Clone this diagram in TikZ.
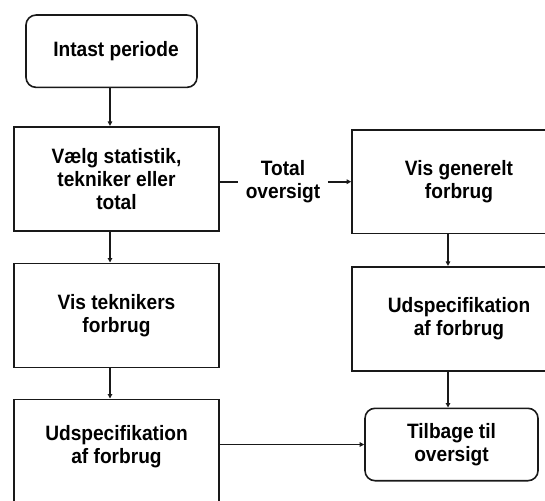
\documentclass[tikz,border=0pt]{standalone}
\usepackage{fontspec}
\setmainfont{Liberation Sans}[FakeStretch=0.92]
\usetikzlibrary{arrows.meta}
\begin{document}
\begin{tikzpicture}[x=1pt,y=1pt,
  every node/.style={font=\fontsize{20.8}{23}\selectfont\bfseries, align=center, inner sep=0pt},
  box/.style={draw=black!90, line width=1.6pt, minimum width=205pt, minimum height=104pt},
  rbox/.style={draw=black!90, line width=1.6pt, rounded corners=10pt},
  conn/.style={draw=black!90, line width=1.6pt},
  arr/.style={conn, -{Triangle[length=4.5pt,width=4.5pt]}}]
\useasboundingbox[fill=white] (0,0) rectangle (545,-500);
% columns for the vertical connectors
\coordinate (cl) at (110,0);
\coordinate (cr) at (448,0);
% nodes
\node[rbox, minimum width=171pt, minimum height=72.3pt, label={[xshift=4.5pt]center:Intast periode}] (b1) at (111.5,-51.2) {};
\node[box] (b2) at (116.5,-178.7) {Vælg statistik,\\tekniker eller\\total};
\node[box, minimum width=214pt, minimum height=103.3pt] (b3) at (459,-181.7) {Vis generelt\\forbrug};
\node[minimum width=89.4pt] (lbl) at (283,-181.7) {Total\\oversigt};
\node[box] (b4) at (116.5,-315.3) {Vis teknikers\\forbrug};
\node[box, minimum width=214pt] (b5) at (459,-318.7) {Udspecifikation\\af forbrug};
\node[box, label={[yshift=4.6pt, align=center]center:{Udspecifikation\\af forbrug}}] (b6) at (116.5,-451.3) {};
\node[rbox, minimum width=173pt, minimum height=72.4pt] (b7) at (451.5,-444.5) {Tilbage til\\oversigt};
% connectors
\draw[arr] (b1.south -| cl) -- (b2.north -| cl);
\draw[arr] (b2.south -| cl) -- (b4.north -| cl);
\draw[arr] (b4.south -| cl) -- (b6.north -| cl);
\draw[conn] (b2.east |- lbl) -- (lbl.west);
\draw[arr] (lbl.east) -- (b3.west |- lbl);
\draw[arr] (b3.south -| cr) -- (b5.north -| cr);
\draw[arr] (b5.south -| cr) -- (b7.north -| cr);
\draw[arr] (b6.east |- b7.west) -- (b7.west);
\end{tikzpicture}
\end{document}
